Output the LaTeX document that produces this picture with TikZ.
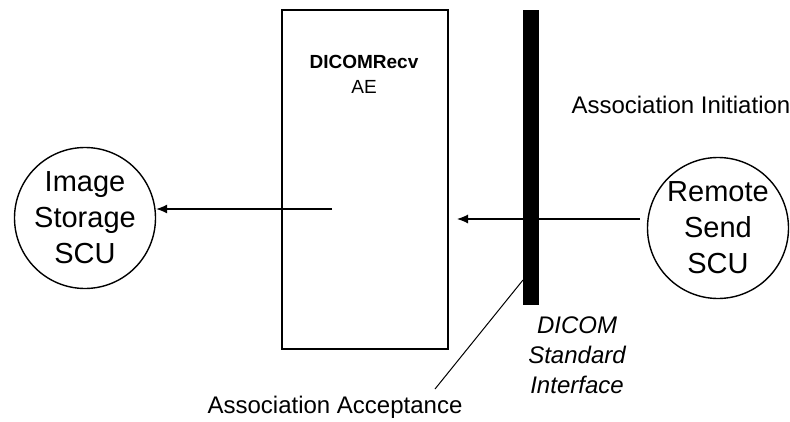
\documentclass[tikz,border=0pt]{standalone}
\usepackage{fontspec}
\setmainfont{Liberation Sans}
\usetikzlibrary{arrows.meta}

\begin{document}
\begin{tikzpicture}[x=1pt, y=-1pt,
  actor/.style={circle, draw, line width=1.4pt, minimum size=141pt, inner sep=0pt,
    align=center, font=\fontsize{29}{36}\selectfont},
  flow/.style={line width=1.1pt, -{Latex[length=11pt,width=9pt]}},
  note/.style={font=\fontsize{24}{25}\selectfont}]
\useasboundingbox (0, 0) rectangle (790, 421);

\node[actor] (imgscu) at (85, 218) {Image\\Storage\\SCU};
\node[actor] (remscu) at (718, 228) {Remote\\Send\\SCU};

\node[draw, line width=1.1pt, minimum width=166pt, minimum height=339pt, inner sep=0pt] (recv) at (365, 179.5) {};
\node[align=center, font=\fontsize{19}{25}\selectfont] (recvlbl) at (364, 74) {\textbf{DICOMRecv}\\AE};

\node[fill=black, minimum width=16pt, minimum height=295pt, inner sep=0pt] (iface) at (531, 157.5) {};
\node[align=center, font=\fontsize{24}{30}\selectfont\itshape] (ifacelbl) at (577, 355) {DICOM\\Standard\\Interface};

\node[note, anchor=west] (initlbl) at (568, 105) {Association Initiation};
\node[note] (acclbl) at (335, 407) {Association Acceptance};

\coordinate (recvout) at (332, 209);
\coordinate (recvin) at (457, 219);
\coordinate (sendout) at (640, 219);
\coordinate (accend) at (435, 389);
\coordinate (ifacept) at (523, 280);

\draw[flow] (recvout) -- (recvout -| imgscu.east);
\draw[flow] (sendout) -- (recvin);
\draw[line width=1pt] (accend) -- (ifacept);
\end{tikzpicture}
\end{document}
